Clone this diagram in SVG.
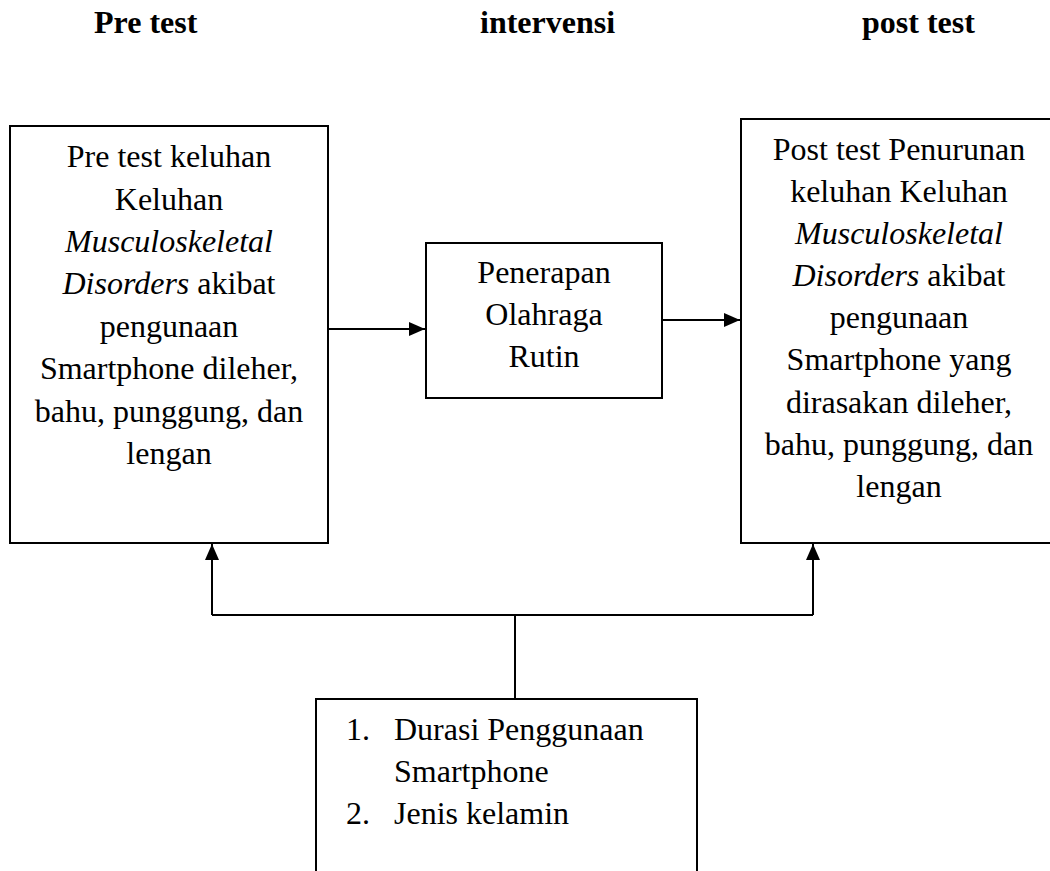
<svg xmlns="http://www.w3.org/2000/svg" width="1050" height="871" viewBox="0 0 1050 871">
<style>
text{font-family:"Liberation Serif","Times New Roman",serif;font-size:32px;fill:#000}
.h{font-weight:bold}
.c{text-anchor:middle}
.box{fill:#fff;stroke:#000;stroke-width:2}
.ln{fill:none;stroke:#000;stroke-width:2}
</style>
<defs>
<marker id="ah" viewBox="0 0 16 14" refX="16" refY="7" markerWidth="16" markerHeight="14" markerUnits="userSpaceOnUse" orient="auto">
<path d="M0,0 L16,7 L0,14 Z" fill="#000"/>
</marker>
</defs>
<rect width="1050" height="871" fill="#fff"/>
<g id="headers">
<text class="h" x="94" y="33">Pre test</text>
<text class="h" x="480" y="33">intervensi</text>
<text class="h" x="862" y="33">post test</text>
</g>
<g id="connectors">
<line class="ln" x1="328" y1="329" x2="425" y2="329" marker-end="url(#ah)"/>
<line class="ln" x1="662" y1="320" x2="740" y2="320" marker-end="url(#ah)"/>
<polyline class="ln" points="515,699 515,615"/>
<polyline class="ln" points="212,615 813,615"/>
<line class="ln" x1="212" y1="615" x2="212" y2="544" marker-end="url(#ah)"/>
<line class="ln" x1="813" y1="615" x2="813" y2="544" marker-end="url(#ah)"/>
</g>
<g id="pretest">
<rect class="box" x="10" y="126" width="318" height="417"/>
<text class="c" x="169" y="167">Pre test keluhan</text>
<text class="c" x="169" y="210">Keluhan</text>
<text class="c" x="169" y="252" font-style="italic">Musculoskeletal</text>
<text class="c" x="169" y="294"><tspan font-style="italic">Disorders</tspan> akibat</text>
<text class="c" x="169" y="337">pengunaan</text>
<text class="c" x="169" y="379">Smartphone dileher,</text>
<text class="c" x="169" y="422">bahu, punggung, dan</text>
<text class="c" x="169" y="464">lengan</text>
</g>
<g id="intervensi">
<rect class="box" x="426" y="243" width="236" height="155"/>
<text class="c" x="544" y="283">Penerapan</text>
<text class="c" x="544" y="325">Olahraga</text>
<text class="c" x="544" y="367">Rutin</text>
</g>
<g id="posttest">
<rect class="box" x="741" y="119" width="318" height="424"/>
<text class="c" x="899" y="160">Post test Penurunan</text>
<text class="c" x="899" y="202">keluhan Keluhan</text>
<text class="c" x="899" y="244" font-style="italic">Musculoskeletal</text>
<text class="c" x="899" y="286"><tspan font-style="italic">Disorders</tspan> akibat</text>
<text class="c" x="899" y="328">pengunaan</text>
<text class="c" x="899" y="370">Smartphone yang</text>
<text class="c" x="899" y="413">dirasakan dileher,</text>
<text class="c" x="899" y="455">bahu, punggung, dan</text>
<text class="c" x="899" y="497">lengan</text>
</g>
<g id="faktor">
<rect class="box" x="316" y="699" width="381" height="200"/>
<text x="346" y="740">1.</text>
<text x="394" y="740">Durasi Penggunaan</text>
<text x="394" y="782">Smartphone</text>
<text x="346" y="824">2.</text>
<text x="394" y="824">Jenis kelamin</text>
</g>
</svg>
